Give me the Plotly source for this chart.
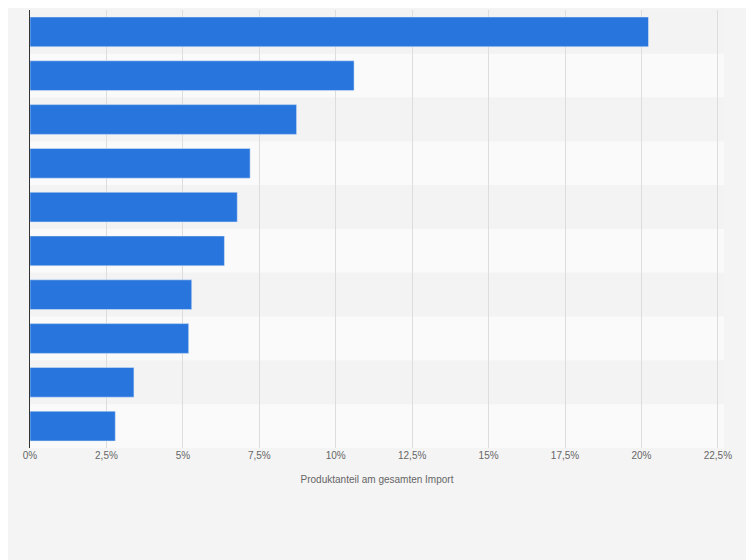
import plotly.graph_objects as go

# Bar values (percent), top to bottom
products = ["P1", "P2", "P3", "P4", "P5", "P6", "P7", "P8", "P9", "P10"]
shares = [20.23, 10.6, 8.72, 7.2, 6.78, 6.36, 5.29, 5.19, 3.4, 2.79]
tick_vals = [0, 2.5, 5, 7.5, 10, 12.5, 15, 17.5, 20, 22.5]
tick_text = ["0%", "2,5%", "5%", "7,5%", "10%", "12,5%", "15%", "17,5%", "20%", "22,5%"]

fig = go.Figure(go.Bar(
    x=shares,
    y=products,
    orientation="h",
    marker=dict(color="#2876dd"),
    width=0.68,
))

# alternating row bands
for i in range(len(products)):
    fig.add_shape(
        type="rect", xref="paper", yref="y",
        x0=0, x1=1, y0=i - 0.5, y1=i + 0.5,
        fillcolor="#f3f3f3" if i % 2 == 0 else "#fafafa",
        line_width=0, layer="below",
    )

fig.update_layout(
    width=754, height=560,
    margin=dict(l=22, r=38, t=2, b=120),
    paper_bgcolor="#f4f4f4",
    plot_bgcolor="#f4f4f4",
    showlegend=False,
    bargap=0.32,
    font=dict(family="Arial, Liberation Sans, sans-serif", size=10, color="#666666"),
    xaxis=dict(
        range=[0, 22.7],
        tickvals=tick_vals, ticktext=tick_text,
        showgrid=True, gridcolor="#dddddd", gridwidth=1,
        zeroline=False,
        title=dict(text="Produktanteil am gesamten Import", font=dict(size=10, color="#666666")),
        ticks="", tickfont=dict(size=10),
    ),
    yaxis=dict(
        autorange="reversed",
        showticklabels=False,
        showline=True, linecolor="#333333", linewidth=1,
        showgrid=False, zeroline=False,
    ),
)

fig.write_html("out.html")
